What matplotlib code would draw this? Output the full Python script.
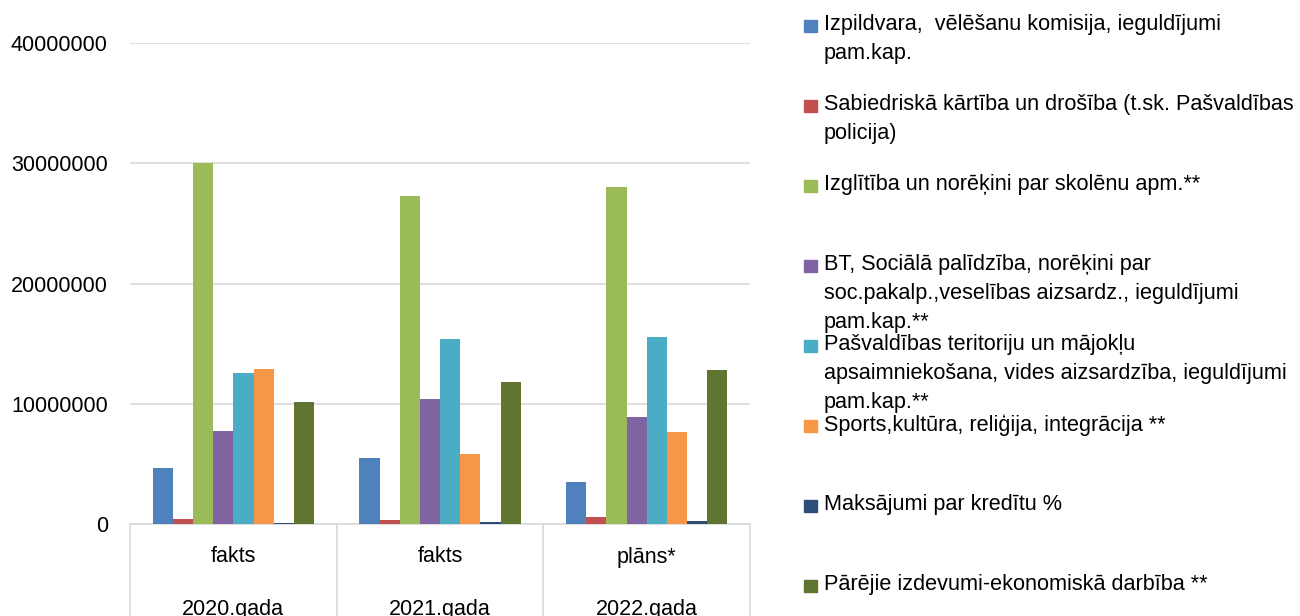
import matplotlib
matplotlib.use("Agg")
import matplotlib.pyplot as plt
import numpy as np
from matplotlib.patches import Rectangle

plt.rcParams["font.family"] = ["Liberation Sans", "DejaVu Sans"]

# data
years = ["2020.gada", "2021.gada", "2022.gada"]
kinds = ["fakts", "fakts", "plāns*"]
series_labels = [
    "Izpildvara,  vēlēšanu komisija, ieguldījumi\npam.kap.",
    "Sabiedriskā kārtība un drošība (t.sk. Pašvaldības\npolicija)",
    "Izglītība un norēķini par skolēnu apm.**",
    "BT, Sociālā palīdzība, norēķini par\nsoc.pakalp.,veselības aizsardz., ieguldījumi\npam.kap.**",
    "Pašvaldības teritoriju un mājokļu\napsaimniekošana, vides aizsardzība, ieguldījumi\npam.kap.**",
    "Sports,kultūra, reliģija, integrācija **",
    "Maksājumi par kredītu %",
    "Pārējie izdevumi-ekonomiskā darbība **",
]
izpildvara = [4660000, 5490000, 3520000]
kartiba = [420000, 330000, 580000]
izglitiba = [30000000, 27300000, 28000000]
socialie = [7730000, 10420000, 8920000]
teritorija = [12560000, 15400000, 15550000]
sports = [12880000, 5820000, 7680000]
kredits = [100000, 150000, 270000]
parejie = [10150000, 11800000, 12800000]
values = [izpildvara, kartiba, izglitiba, socialie, teritorija, sports, kredits, parejie]

colors = ["#4F81BD", "#C0504D", "#9BBB59", "#8064A2",
          "#4BACC6", "#F79646", "#2C4D75", "#5F7530"]
GRID = "#D9D9D9"

fig = plt.figure(figsize=(13, 6.16), dpi=100)
ax = fig.add_axes([0.1, 1 - 524 / 616, 0.477, (524 - 43) / 616])

x = np.arange(len(years))
w = 0.0976
for i, (vals, c) in enumerate(zip(values, colors)):
    ax.bar(x + (i - 3.5) * w, vals, width=w, color=c, zorder=3)

ax.set_xlim(-0.5, 2.5)
ax.set_ylim(0, 40000000)
ax.set_yticks(range(0, 40000001, 10000000))
ax.set_yticklabels([str(v) for v in range(0, 40000001, 10000000)])
ax.tick_params(axis="y", length=0, pad=16, labelsize=15.5)
ax.grid(axis="y", color=GRID, linewidth=1.2, zorder=0)
for s in ["top", "right", "left"]:
    ax.spines[s].set_visible(False)
ax.spines["bottom"].set_color(GRID)
ax.spines["bottom"].set_linewidth(1.2)

# category separators
ax.set_xticks([-0.5, 0.5, 1.5, 2.5])
ax.set_xticklabels([])
ax.tick_params(axis="x", length=80, color=GRID, width=1.2, direction="out")
for xi, k, yr in zip(x, kinds, years):
    ax.annotate(k, (xi, 0), xycoords=("data", "axes fraction"),
                xytext=(0, -33), textcoords="offset pixels",
                ha="center", va="center", fontsize=15.5)
    ax.annotate(yr, (xi, 0), xycoords=("data", "axes fraction"),
                xytext=(0, -85), textcoords="offset pixels",
                ha="center", va="center", fontsize=15.5)

# legend
for i, (lab, c) in enumerate(zip(series_labels, colors)):
    ytop = 616 - (14 + i * 80)
    fig.patches.append(Rectangle((804 / 1300, (ytop - 18) / 616), 13 / 1300, 12 / 616,
                                 transform=fig.transFigure, color=c, figure=fig))
    fig.text(824 / 1300, ytop / 616, lab, ha="left", va="top",
             fontsize=15.6, linespacing=1.5)

fig.savefig("out.png", dpi=100, facecolor="white")
